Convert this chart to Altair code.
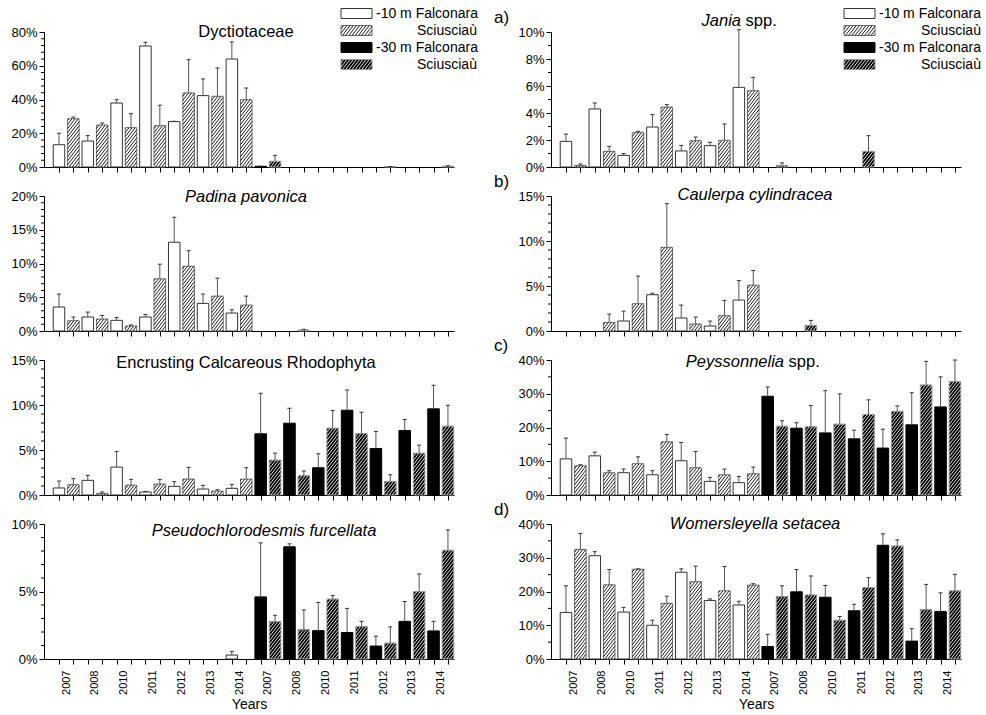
import altair as alt
import pandas as pd

# ---------------- data ----------------
YEARS = ["2007", "2008", "2010", "2011", "2012", "2013", "2014"]
GROUPS = ["-10 m Falconara", "-10 m Sciusciaù", "-30 m Falconara", "-30 m Sciusciaù"]
LEGEND_LABELS = ["-10 m Falconara", "Sciusciaù", "-30 m Falconara", "Sciusciaù"]

dyct_mean = [13.2, 28.6, 15.4, 24.9, 37.9, 23.3, 71.7, 24.5, 26.9, 43.9, 42.3, 41.9, 64.0, 39.9,
             0.4, 3.4, 0, 0, 0, 0, 0, 0, 0, 0.2, 0, 0, 0, 0.5]
dyct_se = [6.8, 1.0, 3.2, 1.2, 2.0, 8.3, 2.2, 12.1, 0.2, 19.7, 9.9, 16.8, 10.1, 6.9,
           0.1, 3.5, 0, 0, 0, 0, 0, 0, 0, 0.1, 0, 0, 0, 0.2]

jania_mean = [1.9, 0.12, 4.3, 1.16, 0.86, 2.57, 2.96, 4.44, 1.19, 1.95, 1.58, 1.98, 5.9, 5.65,
              0, 0.12, 0, 0, 0, 0, 0, 1.16, 0, 0, 0, 0, 0, 0]
jania_se = [0.54, 0.1, 0.44, 0.37, 0.13, 0.07, 0.92, 0.18, 0.41, 0.27, 0.25, 1.21, 4.27, 0.99,
            0, 0.18, 0, 0, 0, 0, 0, 1.16, 0, 0, 0, 0, 0, 0]

padina_mean = [3.55, 1.53, 2.07, 1.77, 1.58, 0.74, 2.07, 7.73, 13.15, 9.6, 4.09, 5.17, 2.66, 3.84,
               0, 0, 0, 0.15, 0, 0, 0, 0, 0, 0, 0, 0, 0, 0]
padina_se = [1.92, 0.54, 0.73, 0.53, 0.42, 0.15, 0.39, 2.17, 3.7, 2.3, 1.38, 2.66, 0.49, 1.33,
             0, 0, 0, 0.1, 0, 0, 0, 0, 0, 0, 0, 0, 0, 0]

caul_mean = [0, 0, 0, 0.96, 1.11, 3.03, 4.03, 9.3, 1.44, 0.78, 0.55, 1.7, 3.44, 5.1,
             0, 0, 0, 0.63, 0, 0, 0, 0, 0, 0, 0, 0, 0, 0]
caul_se = [0, 0, 0, 0.92, 1.09, 3.07, 0.17, 4.85, 1.44, 0.77, 0.55, 1.7, 2.16, 1.62,
           0, 0, 0, 0.55, 0, 0, 0, 0, 0, 0, 0, 0, 0, 0]

encr_mean = [0.78, 1.15, 1.63, 0.18, 3.1, 1.1, 0.33, 1.22, 0.96, 1.77, 0.66, 0.44, 0.74, 1.77,
             6.8, 3.88, 7.98, 2.14, 3.03, 7.43, 9.42, 6.83, 5.17, 1.51, 7.17, 4.65, 9.57, 7.65]
encr_se = [0.77, 0.66, 0.55, 0.15, 1.74, 0.64, 0.07, 0.52, 0.52, 1.3, 0.41, 0.15, 0.44, 1.26,
           4.5, 0.77, 1.66, 0.52, 1.55, 1.95, 2.25, 2.37, 1.89, 0.74, 1.22, 0.89, 2.62, 2.32]

peyss_mean = [10.7, 8.67, 11.6, 6.6, 6.6, 9.26, 6.0, 15.76, 10.15, 8.08, 4.04, 6.0, 3.65, 6.3,
              29.26, 20.4, 19.8, 20.2, 18.4, 21.0, 16.65, 23.84, 13.9, 24.8, 20.8, 32.6, 26.1, 33.6]
peyss_se = [6.15, 0.3, 1.1, 0.6, 1.1, 2.04, 1.2, 2.17, 5.42, 4.82, 1.18, 1.68, 1.85, 1.98,
            2.74, 1.6, 1.6, 6.3, 12.5, 8.95, 2.55, 4.36, 5.6, 1.6, 9.5, 7.0, 8.9, 6.4]

pseudo_mean = [0, 0, 0, 0, 0, 0, 0, 0, 0, 0, 0, 0, 0.29, 0,
               4.6, 2.77, 8.31, 2.18, 2.1, 4.44, 1.96, 2.4, 0.96, 1.18, 2.79, 4.98, 2.08, 8.06]
pseudo_se = [0, 0, 0, 0, 0, 0, 0, 0, 0, 0, 0, 0, 0.27, 0,
             4.0, 0.47, 0.22, 1.45, 2.09, 0.26, 1.79, 0.39, 0.73, 1.2, 1.47, 1.32, 0.71, 1.5]

womer_mean = [13.8, 32.5, 30.6, 22.0, 13.9, 26.6, 10.0, 16.5, 25.7, 22.9, 17.35, 20.2, 16.0, 21.9,
              3.7, 18.5, 19.9, 19.0, 18.3, 11.5, 14.3, 21.2, 33.7, 33.5, 5.3, 14.7, 14.1, 20.2]
womer_se = [7.9, 4.7, 1.2, 4.5, 1.4, 0.1, 1.5, 2.1, 1.0, 4.6, 0.45, 7.2, 1.1, 0.4,
            3.6, 3.2, 6.6, 5.6, 3.5, 1.1, 1.9, 2.9, 3.4, 1.8, 3.7, 7.4, 5.5, 4.9]

# ---------------- styling / layout ----------------
FONT = "Liberation Sans"
PLOT_W, PLOT_H = 410, 135
XMIN, XMAX = -1.04, 27.42
HALF = 0.4
FILL = ["#ffffff", "#ffffff", "#000000", "#000000"]
STROKE = ["#333333", "#707070", "#000000", "#8a8a8a"]
HATCH_GROUPS = [GROUPS[1], GROUPS[3]]
HATCH_COL = ["#1e1e1e", "#dedede"]

fill_scale = alt.Scale(domain=GROUPS, range=FILL)
stroke_scale = alt.Scale(domain=GROUPS, range=STROKE)
hatch_scale = alt.Scale(domain=HATCH_GROUPS, range=HATCH_COL)


def hatch_local(w, h, spacing=3.1, slope=1.3):
    """Diagonal hatch segments inside a w x h box (pixels, y up)."""
    segs = []
    c = w - 0.8
    lim = -h / slope
    while c > lim:
        x0 = max(0.0, c)
        x1 = min(w, c + h / slope)
        if x1 - x0 > 0.25:
            segs.append((x0, slope * (x0 - c), x1, slope * (x1 - c)))
        c -= spacing
    return segs


def group_of(i):
    return GROUPS[(2 if i >= 14 else 0) + i % 2]


def panel(mean, se, ymax, major, minor, bottom, titles, letter=None, legend=None):
    n = len(mean)
    df = pd.DataFrame({"i": list(range(n)), "v": mean, "se": se})
    df["group"] = [group_of(i) for i in range(n)]
    df["x0"] = df["i"] - HALF
    df["x1"] = df["i"] + HALF
    df["top"] = df["v"] + df["se"]
    df["c0"] = df["i"] - 0.14
    df["c1"] = df["i"] + 0.14

    xs = alt.Scale(domain=[XMIN, XMAX], nice=False, zero=False)
    ys = alt.Scale(domain=[0, ymax], nice=False, zero=True)
    pxx = PLOT_W / (XMAX - XMIN)
    pxy = PLOT_H / ymax

    if bottom:
        arr = "[" + ",".join("'%s'" % y for y in YEARS) + "]"
        xaxis = alt.Axis(
            values=list(range(n)),
            labelExpr="datum.value % 2 == 0 ? " + arr + "[floor(datum.value / 2) % 7] : ''",
            labelAngle=270, labelAlign="right", labelBaseline="middle",
            labelOffset=7.2, labelPadding=6, labelFontSize=11, labelOverlap=False,
            labelFlush=False, labelBound=False, tickSize=5, grid=False,
            title="Years", titleFontSize=14, titleFontWeight="normal", titlePadding=3,
            domainColor="black", tickColor="black", labelColor="black", titleColor="black")
    else:
        xaxis = alt.Axis(values=list(range(n)), labels=False, tickSize=5, grid=False,
                         title=None, domainColor="black", tickColor="black")

    majors = [k * major for k in range(int(round(ymax / major)) + 1)]
    yaxis = alt.Axis(values=majors, labelExpr="datum.value + '%'", tickSize=5,
                     labelPadding=2, labelFontSize=13, labelOverlap=False, grid=False,
                     title=None, domainColor="black", tickColor="black", labelColor="black")

    def XE(field):
        return alt.X(field, scale=xs, axis=xaxis)

    def YE(field):
        return alt.Y(field, scale=ys, axis=yaxis)

    bars = alt.Chart(df).transform_filter("datum.v > 0").mark_bar(strokeWidth=1).encode(
        x=XE("x0:Q"), x2="x1:Q",
        y=YE("v:Q"), y2=alt.datum(0),
        fill=alt.Fill("group:N", scale=fill_scale, legend=None),
        stroke=alt.Stroke("group:N", scale=stroke_scale, legend=None),
    )

    # hatching of the Sciusciaù bars, drawn through the scales
    rows = []
    for i, v in enumerate(mean):
        if i % 2 == 0 or v <= 0:
            continue
        w = 2 * HALF * pxx
        for (a, b, c, d) in hatch_local(w, v * pxy):
            rows.append({"hx": i - HALF + a / pxx, "hx2": i - HALF + c / pxx,
                         "hy": b / pxy, "hy2": d / pxy, "group": group_of(i)})

    layers = [bars]

    # legend drawn in the panel's own data space (top-right corner)
    ldf = None
    if legend is not None:
        bx, t1, t2 = legend
        ry = [-18.5, -1.5, 15.5, 32.5]
        bw, bh = 31, 10

        def X(px):
            return XMIN + px / pxx

        def Y(py):
            return ymax * (1 - py / PLOT_H)

        ldf = pd.DataFrame({
            "bx": [X(bx)] * 4, "bx2": [X(bx + bw)] * 4,
            "by": [Y(y - bh / 2) for y in ry], "by2": [Y(y + bh / 2) for y in ry],
            "group": GROUPS,
            "label": LEGEND_LABELS,
            "tx": [X(t1), X(t2), X(t1), X(t2)], "ty": [Y(y) for y in ry],
        })
        for k in (1, 3):
            bottom_y = ry[k] + bh / 2
            for (a, b, c, d) in hatch_local(bw, bh, spacing=3.2, slope=1.3):
                rows.append({"hx": X(bx + a), "hx2": X(bx + c), "hy": Y(bottom_y - b),
                             "hy2": Y(bottom_y - d), "group": GROUPS[k]})
        boxes = alt.Chart(ldf).mark_rect(strokeWidth=1).encode(
            x=XE("bx:Q"), x2="bx2:Q",
            y=YE("by:Q"), y2="by2:Q",
            fill=alt.Fill("group:N", scale=fill_scale, legend=None),
            stroke=alt.Stroke("group:N", scale=stroke_scale, legend=None),
        )
        layers.append(boxes)

    hdf = pd.DataFrame(rows, columns=["hx", "hx2", "hy", "hy2", "group"])
    hatch = alt.Chart(hdf).mark_rule(strokeWidth=1).encode(
        x=XE("hx:Q"), x2="hx2:Q",
        y=YE("hy:Q"), y2="hy2:Q",
        color=alt.Color("group:N", scale=hatch_scale, legend=None),
    )
    layers.append(hatch)

    err = alt.Chart(df).transform_filter("datum.se > 0").mark_rule(color="#555555", strokeWidth=1).encode(
        x=XE("i:Q"), y=YE("v:Q"), y2="top:Q",
    )
    caps = alt.Chart(df).transform_filter("datum.se > 0").mark_rule(color="#333333", strokeWidth=1).encode(
        x=XE("c0:Q"), x2="c1:Q", y=YE("top:Q"),
    )
    layers += [err, caps]

    minors = [k * minor for k in range(int(round(ymax / minor)) + 1)]
    minors = [m for m in minors if abs(m / major - round(m / major)) > 1e-6]
    mdf = pd.DataFrame({"m": minors})
    mticks = alt.Chart(mdf).mark_rule(color="black", strokeWidth=1).encode(
        y=YE("m:Q"), x=alt.value(-3), x2=alt.value(0))
    layers.append(mticks)

    if ldf is not None:
        ltext = alt.Chart(ldf).mark_text(font=FONT, fontSize=14, align="left",
                                         baseline="middle", color="black").encode(
            x=XE("tx:Q"), y=YE("ty:Q"), text="label:N")
        layers.append(ltext)

    one = pd.DataFrame({"a": [0]})
    for (txt, style, tx, ty, align) in titles:
        layers.append(alt.Chart(one).mark_text(
            text=txt, font=FONT, fontSize=16.5, fontStyle=style, align=align,
            baseline="alphabetic", color="black").encode(x=alt.value(tx), y=alt.value(ty)))

    if letter is not None:
        layers.append(alt.Chart(one).mark_text(
            text=letter, font=FONT, fontSize=17, align="left", baseline="alphabetic",
            color="black").encode(x=alt.value(-57), y=alt.value(-9)))

    return alt.layer(*layers).properties(width=PLOT_W, height=PLOT_H)


p_dyct = panel(dyct_mean, dyct_se, 80, 20, 4, False,
               [("Dyctiotaceae", "normal", 202, 5, "center")], legend=(297, 332, 373))
p_jania = panel(jania_mean, jania_se, 10, 2, 1, False,
                [("Jania", "italic", 190, -6, "right"), ("spp.", "normal", 194.6, -6, "left")],
                letter="a)", legend=(293, 328, 370))
p_padina = panel(padina_mean, padina_se, 20, 5, 1, False,
                 [("Padina pavonica", "italic", 202, 6, "center")])
p_caul = panel(caul_mean, caul_se, 15, 5, 1, False,
               [("Caulerpa cylindracea", "italic", 204, 4, "center")], letter="b)")
p_encr = panel(encr_mean, encr_se, 15, 5, 1, False,
               [("Encrusting Calcareous Rhodophyta", "normal", 202, 7.5, "center")])
p_peyss = panel(peyss_mean, peyss_se, 40, 10, 5, False,
                [("Peyssonnelia", "italic", 233, 7, "right"), ("spp.", "normal", 237.6, 7, "left")],
                letter="c)")
p_pseudo = panel(pseudo_mean, pseudo_se, 10, 5, 1, True,
                 [("Pseudochlorodesmis furcellata", "italic", 220, 11.5, "center")])
p_womer = panel(womer_mean, womer_se, 40, 10, 5, True,
                [("Womersleyella setacea", "italic", 204, 5, "center")], letter="d)")

chart = alt.concat(
    p_dyct, p_jania, p_padina, p_caul, p_encr, p_peyss, p_pseudo, p_womer,
    columns=2, spacing={"row": -1, "column": 16},
).properties(
    padding={"left": 10, "top": 6, "right": 0, "bottom": 0}
).configure_view(stroke=None).configure_axis(
    labelFont=FONT, titleFont=FONT, domainWidth=1, tickWidth=1
)

chart.save("out.html", embed_options={"renderer": "svg", "actions": False})
